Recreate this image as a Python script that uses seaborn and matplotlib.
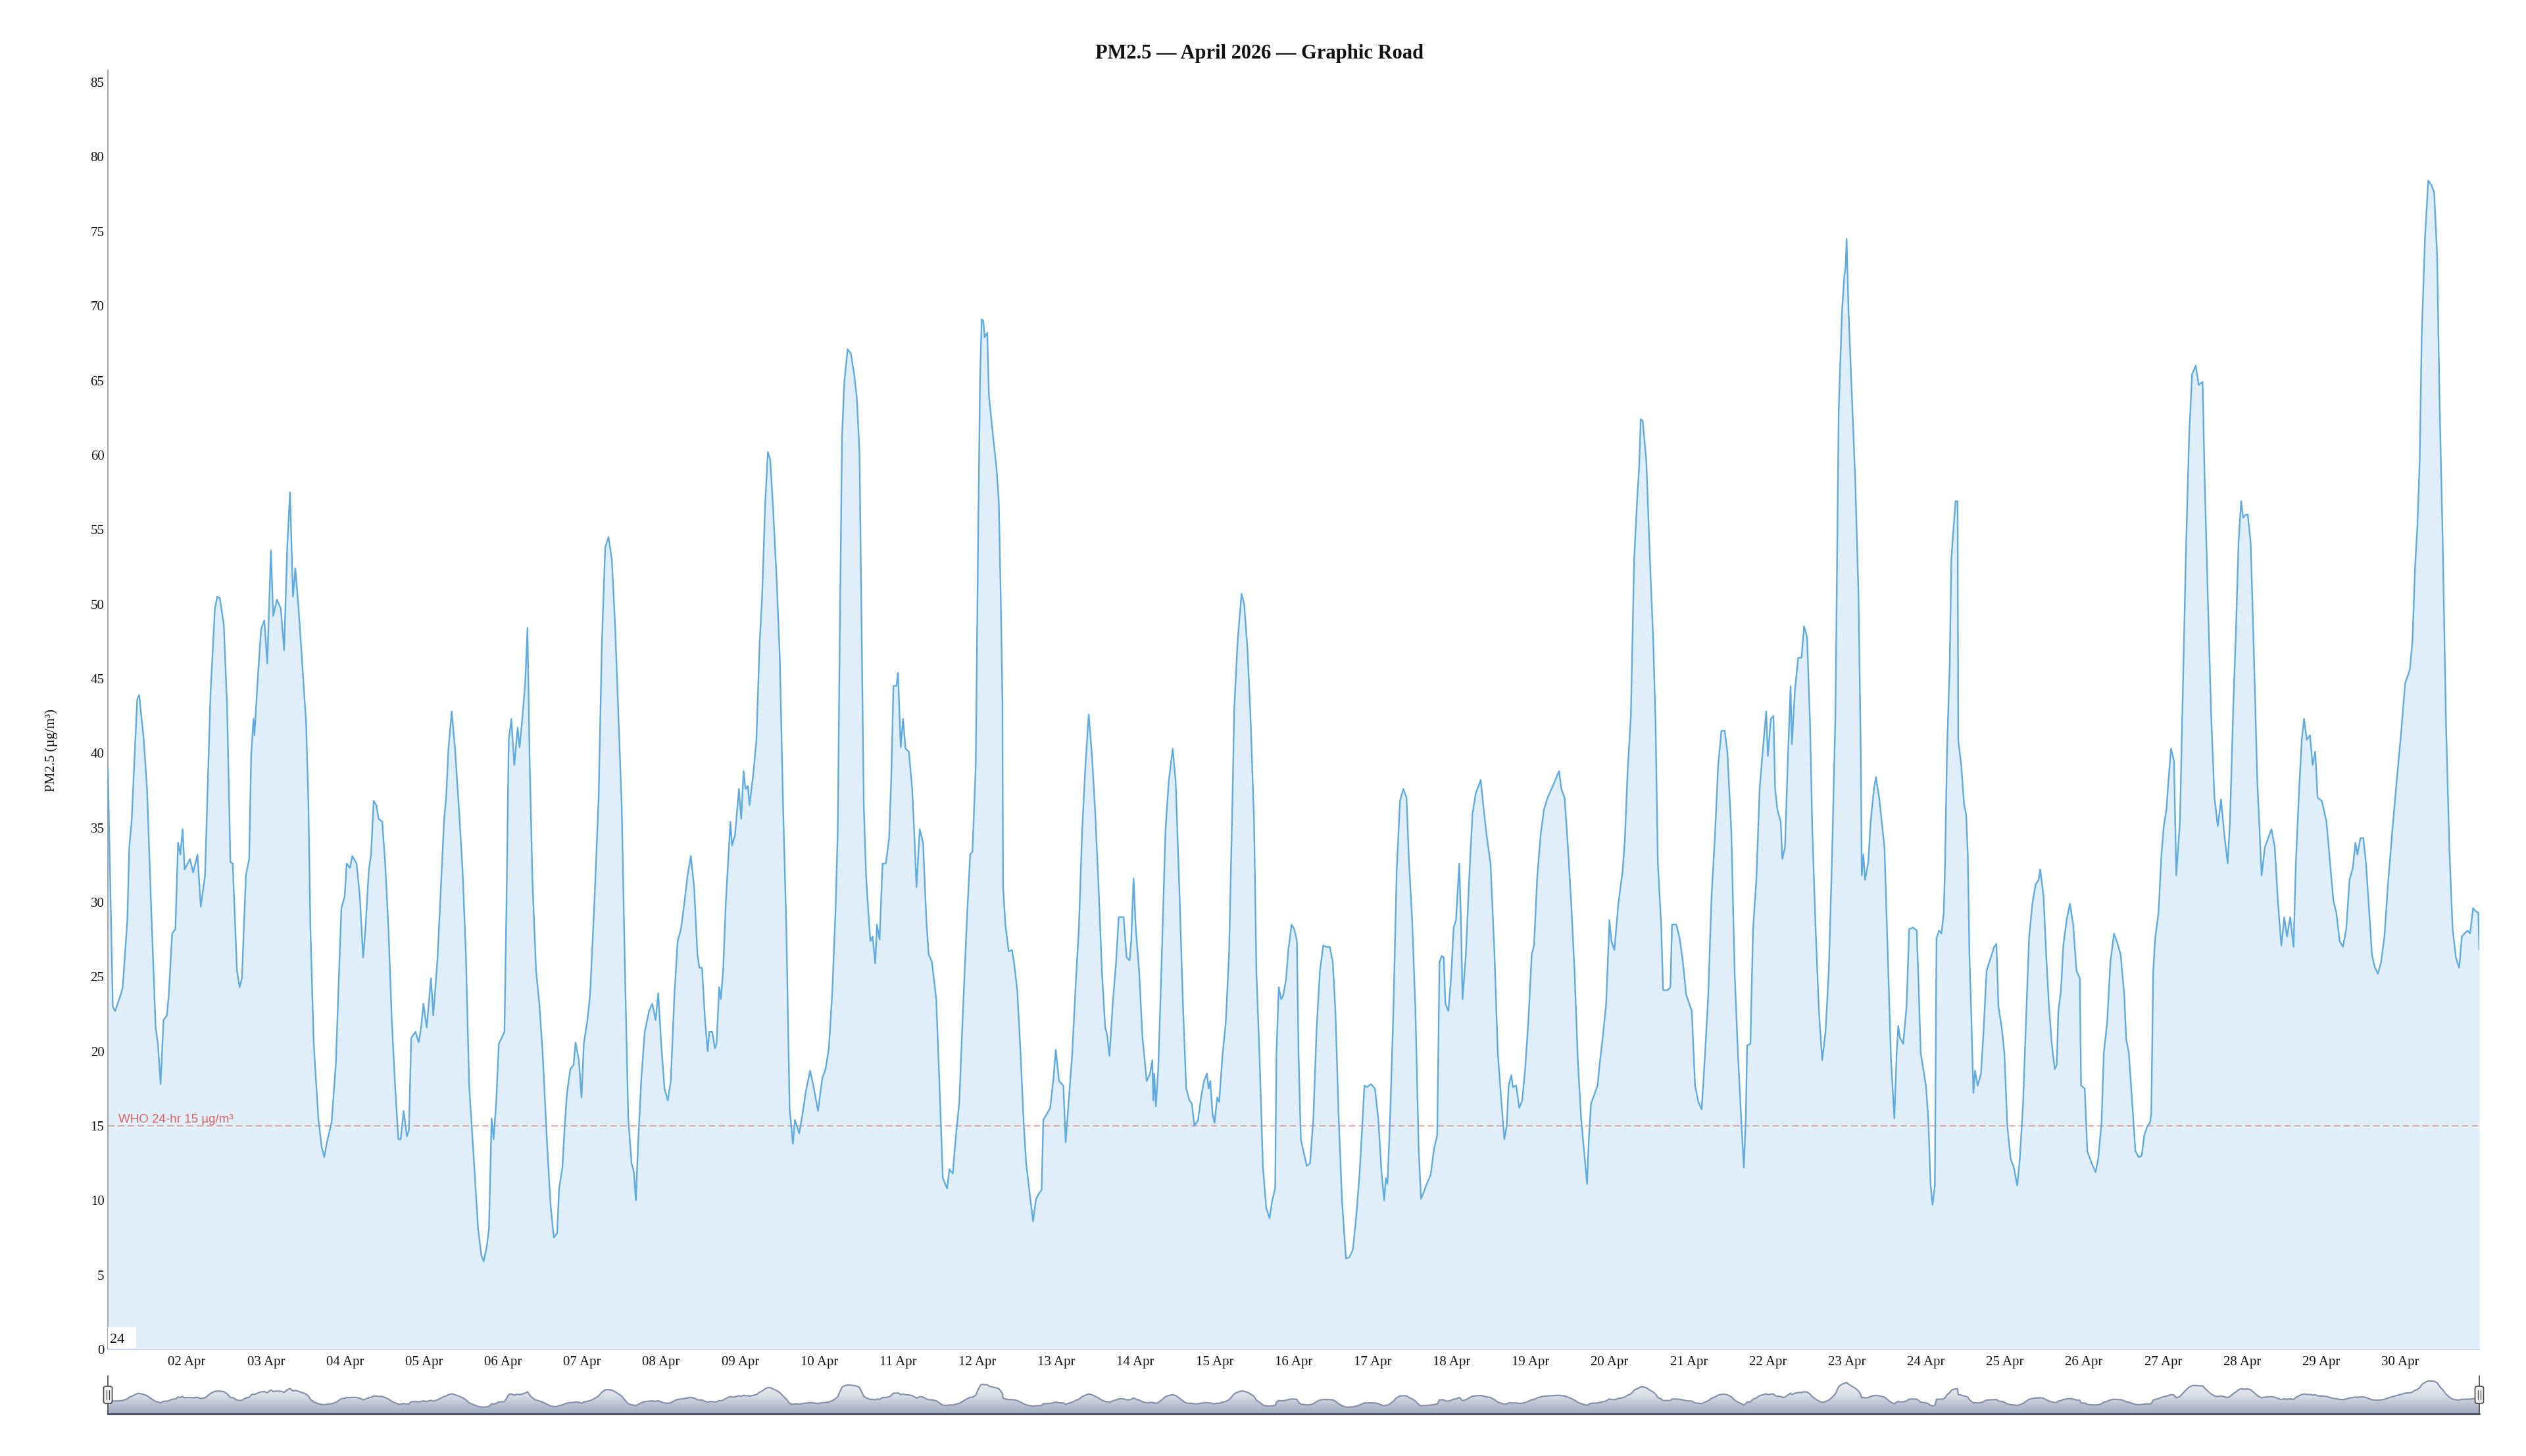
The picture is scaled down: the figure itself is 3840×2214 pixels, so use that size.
import numpy as np
import pandas as pd
import matplotlib
matplotlib.use('Agg')
import matplotlib.pyplot as plt
import matplotlib.dates as mdates
from matplotlib.colors import LinearSegmentedColormap
from matplotlib.lines import Line2D
from matplotlib.patches import FancyBboxPatch, Rectangle
from matplotlib.transforms import IdentityTransform
import seaborn as sns

# PM2.5 readings (hours since 01 Apr 00:00, µg/m³)
seg1 = [(0.0, 39.0), (1.5, 23.0), (2.2, 22.7), (3.9, 23.8), (4.5, 24.3), (5.9, 28.8), (6.5, 33.7),
        (7.2, 35.4), (8.9, 43.6), (9.5, 43.9), (10.9, 40.9), (11.9, 37.6), (13.2, 29.3), (14.5, 21.6),
        (15.2, 20.5), (16.0, 17.8), (16.9, 22.1), (17.9, 22.4), (18.5, 23.8), (19.5, 27.9), (20.5, 28.2),
        (21.3, 34.0), (22.0, 33.2), (22.7, 34.9), (23.3, 32.2), (24.9, 32.9), (25.9, 32.0), (27.2, 33.2),
        (28.2, 29.7), (29.5, 31.8), (30.5, 39.2), (31.2, 44.2), (32.5, 49.7), (33.2, 50.5), (34.0, 50.4),
        (35.2, 48.6), (36.2, 43.1), (37.2, 32.7), (37.9, 32.6), (39.2, 25.4), (40.0, 24.3), (40.7, 24.9),
        (41.9, 31.8), (42.9, 32.9), (43.5, 39.8), (44.2, 42.3), (44.5, 41.2), (45.5, 45.0), (46.5, 48.3),
        (47.5, 48.9), (48.4, 46.0), (49.5, 53.6), (50.2, 49.2), (51.3, 50.3), (52.5, 49.7), (53.5, 46.9),
        (54.5, 54.1), (55.3, 57.5), (56.2, 50.5), (56.9, 52.4), (57.9, 49.7), (58.9, 46.4), (60.2, 42.0),
        (60.9, 36.5), (61.5, 28.2), (62.5, 20.5), (63.9, 15.5), (64.9, 13.6), (65.7, 12.9), (66.5, 13.9),
        (67.9, 15.2), (69.2, 19.1), (70.2, 25.4), (70.9, 29.6), (71.9, 30.4), (72.5, 32.6), (73.5, 32.3),
        (74.2, 33.1), (75.5, 32.6), (76.5, 30.4), (77.5, 26.3), (78.2, 28.2), (79.2, 32.1), (79.9, 33.2),
        (80.7, 36.8), (81.5, 36.5), (82.2, 35.6), (83.3, 35.4), (84.2, 32.6), (85.2, 28.2), (86.2, 22.1),
        (87.2, 17.7), (88.2, 14.1), (88.9, 14.1)]

seg2 = [(89.8, 16.0), (90.8, 14.3), (91.4, 14.7), (92.1, 20.9), (93.4, 21.3), (94.4, 20.6), (95.1, 21.6),
        (95.8, 23.2), (96.8, 21.6), (98.1, 24.9), (98.8, 22.4), (100.1, 26.3), (101.4, 32.3), (102.1, 35.6),
        (102.7, 37.0), (103.4, 40.3), (104.4, 42.8), (105.4, 40.3), (106.7, 35.9), (107.7, 32.1),
        (108.7, 26.5), (109.7, 17.7), (111.1, 12.8), (112.4, 8.1), (113.4, 6.3), (114.1, 5.9), (115.1, 7.0),
        (115.7, 8.1), (116.5, 15.5), (117.1, 14.1), (117.9, 16.6), (118.7, 20.5), (120.4, 21.3),
        (121.1, 31.0), (121.7, 40.9), (122.5, 42.3), (123.4, 39.2), (124.4, 41.7), (125.0, 40.4),
        (125.9, 42.5), (126.7, 44.7), (127.4, 48.4), (128.0, 40.1), (128.9, 31.5), (130.0, 25.4),
        (131.0, 23.2), (132.0, 19.9), (133.4, 13.6), (134.4, 9.7), (135.4, 7.5), (136.4, 7.8), (137.0, 10.8),
        (138.0, 12.2), (138.7, 15.0), (139.4, 17.2), (140.4, 18.8), (141.4, 19.1), (142.0, 20.6),
        (143.0, 19.4), (143.8, 16.9), (144.5, 20.5), (145.6, 22.1), (146.4, 23.8), (147.7, 29.9),
        (149.0, 37.0), (150.0, 47.5), (151.0, 53.8), (152.0, 54.5), (153.0, 53.0), (154.0, 48.6),
        (155.0, 42.5), (156.0, 36.5), (157.0, 25.4), (158.0, 15.5), (159.0, 12.5), (159.7, 11.9),
        (160.3, 10.0), (161.0, 13.9), (162.0, 18.3), (163.0, 21.3), (164.3, 22.7), (165.3, 23.2),
        (166.3, 22.1), (167.1, 23.9), (168.0, 20.5), (169.0, 17.5), (170.0, 16.7), (170.9, 18.0),
        (172.0, 23.8), (173.0, 27.4), (174.0, 28.2), (175.0, 29.9), (176.0, 31.8), (177.0, 33.1),
        (178.0, 31.0), (179.0, 26.5)]

seg3 = [(179.6, 25.6), (180.4, 25.6), (181.3, 22.1), (182.1, 20.0), (182.6, 21.3), (183.5, 21.3),
        (184.3, 20.2), (184.8, 20.5), (185.6, 24.3), (186.1, 23.5), (186.8, 25.4), (187.6, 29.9),
        (189.0, 35.4), (189.5, 33.8), (190.4, 34.5), (191.6, 37.6), (192.3, 35.6), (193.0, 38.8),
        (193.6, 37.6), (194.3, 37.8), (194.8, 36.5), (196.0, 38.7), (196.9, 40.9), (197.9, 47.5),
        (198.6, 50.3), (199.6, 56.9), (200.4, 60.2), (201.1, 59.7), (202.0, 56.3), (203.0, 51.9),
        (204.0, 46.4), (205.0, 36.5), (206.0, 28.2), (207.0, 16.1), (208.0, 13.8), (208.6, 15.4),
        (209.9, 14.5), (210.9, 15.8), (211.9, 17.3), (213.2, 18.7), (214.2, 17.7), (215.6, 16.0),
        (216.9, 18.2), (217.9, 18.8), (218.9, 20.2), (219.9, 23.8), (220.9, 29.3), (221.6, 34.8),
        (222.2, 47.5), (222.9, 61.3), (223.6, 64.9), (224.6, 67.1), (225.6, 66.8), (226.6, 65.4),
        (227.4, 63.8), (228.2, 60.2), (228.9, 47.5), (229.5, 36.5), (230.2, 31.8), (230.9, 29.3),
        (231.5, 27.4), (232.2, 27.7), (233.0, 25.9), (233.5, 28.5), (234.3, 27.5), (235.2, 32.6),
        (236.2, 32.6), (237.2, 34.3), (237.9, 38.7), (238.5, 44.5), (239.4, 44.5), (239.9, 45.4),
        (240.7, 40.4), (241.4, 42.3), (242.2, 40.3), (243.2, 40.1), (244.2, 37.6), (244.9, 34.3),
        (245.5, 31.0), (246.5, 34.9), (247.5, 34.0), (248.5, 28.8), (249.2, 26.5), (250.2, 26.0),
        (251.5, 23.5), (252.5, 17.7), (253.5, 11.5), (254.8, 10.8), (255.5, 12.1), (256.5, 11.8),
        (257.5, 14.4), (258.5, 16.6), (259.5, 22.1), (260.8, 28.8), (261.8, 33.2), (262.5, 33.4),
        (263.5, 39.2), (264.2, 54.1), (264.8, 65.1), (265.3, 69.1), (265.8, 69.0), (266.2, 67.9),
        (267.0, 68.2), (267.5, 64.0), (268.5, 61.8)]

seg4 = [(269.8, 59.1), (270.5, 56.9), (271.1, 50.3), (271.6, 43.6), (271.8, 31.0), (272.5, 28.5),
        (273.5, 26.7), (274.5, 26.8), (275.1, 26.0), (276.1, 24.1), (277.1, 19.9), (278.1, 15.0),
        (278.8, 12.5), (279.8, 10.6), (280.9, 8.6), (281.8, 10.1), (282.8, 10.5), (283.5, 10.7),
        (284.0, 15.4), (285.1, 15.8), (286.1, 16.2), (287.1, 18.2), (287.8, 20.1), (288.8, 18.0),
        (290.1, 17.7), (290.8, 13.9), (291.8, 16.9), (292.8, 19.9), (293.8, 24.3), (294.8, 28.2),
        (295.8, 34.8), (296.8, 39.2), (297.8, 42.6), (298.8, 39.8), (299.8, 35.9), (300.8, 31.0),
        (301.8, 25.4), (302.8, 21.6), (303.4, 21.1), (304.1, 19.7), (305.1, 23.2), (306.1, 26.0),
        (306.9, 29.0), (308.4, 29.0), (309.3, 26.3), (310.2, 26.1), (310.7, 27.4), (311.4, 31.6),
        (312.1, 28.2), (313.1, 25.4), (314.1, 21.0), (315.4, 18.0), (316.4, 18.5), (317.1, 19.4),
        (317.4, 16.7), (317.7, 18.5), (318.2, 16.3), (318.9, 18.8), (319.7, 24.3), (321.1, 34.8),
        (322.1, 38.1), (323.3, 40.3), (324.2, 38.1), (325.3, 31.0), (326.4, 23.2), (327.4, 17.5),
        (328.4, 16.7), (329.1, 16.5), (329.9, 15.0), (331.0, 15.4), (331.9, 16.9), (332.8, 18.0),
        (333.7, 18.5), (334.2, 17.5), (334.7, 18.0), (335.4, 15.8), (336.0, 15.2), (336.8, 16.9),
        (337.4, 16.6), (338.4, 19.7), (339.4, 21.9), (340.4, 26.5), (341.4, 36.5), (342.0, 43.1),
        (343.0, 47.5), (344.2, 50.7), (345.0, 50.0), (346.0, 47.0), (347.0, 42.0), (348.0, 35.4),
        (348.7, 25.4), (349.7, 19.4), (350.7, 12.2), (351.7, 9.5), (352.7, 8.8), (353.5, 10.0),
        (354.4, 10.8), (354.8, 19.9), (355.5, 24.3), (356.2, 23.5), (356.8, 23.7), (357.7, 24.8),
        (358.4, 26.8)]

seg5 = [(359.4, 28.5), (360.2, 28.2), (361.0, 27.4), (361.5, 19.9), (362.2, 14.1), (363.0, 13.3),
        (364.0, 12.3), (365.0, 12.5), (366.0, 15.5), (367.0, 21.6), (368.0, 25.4), (369.0, 27.1),
        (370.0, 27.0), (371.0, 27.0), (371.9, 26.0), (372.7, 22.7), (373.7, 15.5), (374.7, 10.0),
        (375.9, 6.1), (377.0, 6.2), (378.0, 6.7), (379.0, 8.9), (380.0, 11.7), (380.7, 14.4),
        (381.5, 17.7), (382.3, 17.6), (383.5, 17.8), (384.7, 17.5), (385.7, 15.5), (386.7, 11.9),
        (387.5, 10.0), (388.0, 11.5), (388.5, 11.1), (389.3, 15.5), (390.3, 22.7), (391.3, 32.1),
        (392.3, 36.8), (393.3, 37.6), (394.3, 37.0), (395.0, 32.9), (396.0, 28.8), (397.0, 22.7),
        (398.0, 13.3), (398.7, 10.1), (399.6, 10.6), (400.6, 11.2), (401.6, 11.7), (402.6, 13.4),
        (403.6, 14.4), (404.3, 26.0), (405.0, 26.4), (405.6, 26.3), (406.1, 23.2), (407.0, 22.7),
        (407.8, 24.9), (408.6, 28.3), (409.3, 28.8), (410.3, 32.6), (410.8, 29.0), (411.3, 23.5),
        (412.3, 26.5), (413.3, 31.5), (414.3, 35.9), (415.3, 37.3), (416.8, 38.2), (417.6, 36.5),
        (418.6, 34.5), (419.8, 32.6), (421.0, 26.5), (422.0, 19.9), (423.0, 16.9), (424.0, 14.1),
        (424.7, 15.0), (425.3, 17.7), (426.1, 18.4), (426.6, 17.6), (427.6, 17.7), (428.5, 16.2),
        (429.4, 16.7), (430.3, 18.8), (431.3, 22.1), (432.3, 26.5), (433.0, 27.1), (434.0, 31.8),
        (435.0, 34.5), (436.0, 36.2), (437.1, 37.0), (438.3, 37.6), (439.3, 38.1), (440.6, 38.8),
        (441.3, 37.6), (442.3, 37.0), (443.3, 33.7), (444.3, 29.9), (445.3, 25.4), (446.3, 19.4),
        (447.3, 15.5), (448.2, 13.3)]

seg6 = [(449.1, 11.1), (449.6, 13.9), (450.3, 16.5), (451.3, 17.1), (452.3, 17.7), (452.9, 19.1),
        (453.9, 21.0), (454.9, 23.2), (455.9, 28.8), (456.5, 27.4), (457.4, 26.8), (458.6, 29.9),
        (459.9, 32.1), (460.6, 34.3), (461.4, 38.7), (462.4, 42.5), (463.4, 53.0), (464.4, 57.4),
        (464.9, 59.1), (465.4, 62.4), (466.0, 62.3), (467.1, 59.6), (468.2, 53.0), (469.2, 47.5),
        (469.9, 42.0), (470.6, 32.6), (471.6, 28.5), (472.2, 24.1), (473.6, 24.1), (474.4, 24.3),
        (474.9, 28.5), (476.2, 28.5), (477.2, 27.6), (478.2, 26.0), (479.2, 23.8), (480.9, 22.7),
        (481.9, 17.7), (482.9, 16.6), (483.9, 16.1), (484.9, 19.7), (485.9, 23.8), (486.9, 30.4),
        (487.9, 34.3), (488.9, 39.2), (489.9, 41.5), (490.9, 41.5), (491.7, 40.1), (492.9, 34.8),
        (493.9, 25.4), (494.9, 19.9), (495.9, 15.5), (496.7, 12.2), (497.3, 15.5), (497.7, 20.4),
        (498.7, 20.5), (499.5, 28.2), (500.5, 31.5), (501.5, 37.6), (502.5, 40.3), (503.5, 42.8),
        (504.0, 39.8), (504.9, 42.3), (505.7, 42.5), (506.2, 37.6), (506.9, 36.2), (507.9, 35.4),
        (508.4, 32.9), (509.2, 33.7), (510.0, 39.2), (510.9, 44.5), (511.3, 40.6), (512.2, 44.2),
        (513.2, 46.4), (514.2, 46.4), (515.0, 48.5), (515.9, 47.8), (516.8, 42.0), (517.5, 34.8),
        (518.5, 28.2), (519.5, 22.7), (520.5, 19.4), (521.5, 21.3), (522.5, 25.4), (523.5, 33.2),
        (524.5, 42.5), (525.5, 62.9), (526.5, 69.6), (527.2, 72.0), (527.6, 72.6), (527.9, 74.5),
        (528.5, 69.6), (529.5, 64.0), (530.5, 58.5), (531.5, 50.8), (532.2, 40.3), (532.5, 31.8),
        (533.0, 33.2), (533.5, 31.5), (534.5, 32.7), (535.2, 35.4), (536.2, 37.6), (536.8, 38.4),
        (537.8, 37.0)]

seg7 = [(539.4, 33.7), (540.4, 26.5), (541.4, 19.4), (542.4, 15.5), (543.1, 19.9), (543.6, 21.7),
        (544.1, 20.9), (545.1, 20.5), (546.1, 23.0), (546.9, 28.2), (548.1, 28.3), (549.2, 28.1),
        (549.7, 24.9), (550.4, 19.9), (551.4, 18.5), (552.0, 17.7), (552.7, 15.5), (553.4, 11.1),
        (554.0, 9.7), (554.7, 11.0), (555.2, 27.6), (556.0, 28.1), (556.7, 27.9), (557.4, 29.3),
        (557.8, 32.6), (558.4, 40.3), (559.2, 45.8), (559.7, 53.0), (560.4, 55.2), (561.0, 56.9),
        (561.6, 56.9), (561.8, 40.9), (562.7, 39.2), (563.6, 36.5), (564.2, 35.9), (564.7, 33.2),
        (565.2, 26.5), (565.8, 22.1), (566.4, 17.2), (566.9, 18.7), (567.7, 17.7), (568.7, 18.5),
        (569.4, 21.0), (570.4, 25.4), (571.7, 26.3), (572.7, 27.0), (573.4, 27.2), (574.0, 23.0),
        (575.0, 21.6), (575.8, 19.9), (576.7, 15.0), (577.7, 12.8), (578.7, 12.2), (579.7, 11.0),
        (580.5, 12.8), (581.5, 16.6), (582.3, 21.6), (583.3, 27.6), (584.3, 29.9), (585.3, 31.2),
        (586.2, 31.5), (586.7, 32.2), (587.7, 30.4), (588.5, 26.5), (589.3, 23.2), (590.2, 20.5),
        (591.1, 18.8), (591.7, 19.1), (592.2, 22.7), (593.0, 24.1), (593.7, 27.1), (594.7, 28.8),
        (595.7, 29.9), (596.7, 28.5), (597.7, 25.4), (598.7, 24.9), (599.1, 17.7), (600.2, 17.5),
        (601.0, 13.3), (602.3, 12.5), (603.5, 11.9), (604.3, 12.8), (605.3, 15.2), (606.0, 19.9),
        (607.0, 21.9), (608.0, 26.0), (609.1, 27.9), (610.2, 27.2), (611.1, 26.5), (612.2, 23.8),
        (612.8, 20.8), (613.6, 19.9), (614.6, 16.6), (615.6, 13.3), (616.6, 12.9), (617.5, 13.0),
        (618.3, 14.4), (619.3, 15.0), (620.0, 15.2), (620.4, 15.8), (621.0, 25.4), (621.6, 27.6),
        (622.6, 29.3), (623.5, 33.2), (624.2, 35.1), (625.0, 36.2), (625.6, 38.1), (626.4, 40.3),
        (627.3, 39.5), (628.0, 31.8)]

seg8 = [(629.1, 35.4), (630.0, 44.2), (631.0, 54.1), (631.9, 61.3), (632.8, 65.4), (633.9, 66.0),
        (634.8, 64.7), (636.0, 64.9), (636.6, 58.5), (637.6, 50.3), (638.6, 42.5), (639.6, 37.0),
        (640.6, 35.1), (641.6, 36.9), (642.6, 34.5), (643.6, 32.6), (644.3, 35.4), (645.3, 43.1),
        (646.1, 48.1), (646.9, 54.1), (647.7, 56.9), (648.3, 55.8), (649.1, 56.0), (649.7, 56.0),
        (650.6, 54.1), (651.6, 46.4), (652.6, 38.1), (653.3, 34.8), (653.9, 31.8), (654.9, 33.7),
        (655.9, 34.3), (656.9, 34.9), (657.9, 33.7), (658.9, 29.9), (659.9, 27.1), (660.8, 29.0),
        (661.6, 27.7), (662.6, 29.0), (663.6, 27.0), (664.3, 32.6), (665.3, 37.6), (666.1, 40.9),
        (666.8, 42.3), (667.6, 40.9), (668.6, 41.2), (669.4, 39.2), (670.2, 40.1), (670.9, 37.0),
        (672.2, 36.8), (673.6, 35.4), (674.9, 32.1), (675.7, 30.1), (676.6, 29.3), (677.6, 27.4),
        (678.6, 27.0), (679.6, 28.2), (680.6, 31.5), (681.6, 32.3), (682.4, 34.0), (683.0, 33.2),
        (683.9, 34.3), (684.8, 34.3), (685.6, 32.6), (686.6, 29.3), (687.4, 26.5), (688.2, 25.7),
        (689.2, 25.2), (690.2, 26.0), (691.2, 27.7), (692.2, 31.0), (693.6, 34.8), (694.9, 38.1),
        (696.2, 41.2), (697.5, 44.7), (698.9, 45.6), (699.7, 47.5), (700.5, 52.5), (701.2, 55.2),
        (701.9, 59.6), (702.5, 67.9), (703.5, 74.5), (704.5, 78.4), (705.5, 78.1), (706.3, 77.6),
        (707.2, 73.4), (707.9, 64.0), (708.9, 54.1), (709.9, 42.0), (710.9, 33.7), (711.9, 28.2),
        (712.9, 26.3), (713.9, 25.6), (714.7, 27.7), (715.5, 27.9), (716.5, 28.1), (717.2, 27.9),
        (718.1, 29.6), (718.9, 29.4), (719.7, 29.3), (720.0, 26.8)]

month_start = '2026-04-01'
n_days = 30
title = 'PM2.5 — April 2026 — Graphic Road'
y_label = 'PM2.5 (µg/m³)'
y_ticks = list(range(0, 90, 5))
who_level = 15
who_label = 'WHO 24-hr 15 µg/m³'
corner_label = '24'

rows = seg1 + seg2 + seg3 + seg4 + seg5 + seg6 + seg7 + seg8
df = pd.DataFrame(rows, columns=['hour', 'pm25'])
t0 = pd.Timestamp(month_start)
t1 = t0 + pd.Timedelta(days=n_days)
df['time'] = t0 + pd.to_timedelta(df['hour'], unit='h')

sns.set_theme(style='white')
plt.rcParams['font.family'] = ['Liberation Serif', 'DejaVu Serif']

W, H = 3840, 2214
fig = plt.figure(figsize=(W / 100, H / 100), dpi=100)


def frame(x0, y0, x1, y1):
    # pixel box (top-left origin) -> figure fraction rect
    return [x0 / W, 1 - y1 / H, (x1 - x0) / W, (y1 - y0) / H]


# main chart
ax = fig.add_axes(frame(164, 107, 3769, 2052))
ax.fill_between(df['time'], df['pm25'], 0, color='#e0eefa', lw=0, zorder=1)
sns.lineplot(data=df, x='time', y='pm25', ax=ax, color='#5eabe1', lw=1.7, zorder=3)
ax.axhline(who_level, color='#d9534f', alpha=0.6, lw=1.1, dashes=(6.5, 3.3), zorder=2)
ax.text(0.0044, who_level + 0.2, who_label, transform=ax.get_yaxis_transform(),
        family=['Liberation Sans', 'DejaVu Sans'], fontsize=13.5, color='#d9534f', alpha=0.9,
        ha='left', va='baseline', zorder=4)

ax.set_xlim(t0, t1)
ax.set_ylim(0, 85.8)
ax.set_yticks(y_ticks)
ax.xaxis.set_major_locator(mdates.DayLocator(bymonthday=range(2, 31)))
ax.xaxis.set_major_formatter(mdates.DateFormatter('%d %b'))
ax.tick_params(axis='both', length=0, labelsize=15, colors='#111111')
ax.tick_params(axis='y', pad=4)
ax.tick_params(axis='x', pad=7)
ax.set_xlabel('')
ax.set_ylabel('')
for s in ['top', 'right']:
    ax.spines[s].set_visible(False)
ax.spines['left'].set_color('#a6a6a6')
ax.spines['left'].set_linewidth(1.5)
ax.spines['bottom'].set_color('#ccd6eb')
ax.spines['bottom'].set_linewidth(1.5)

# small white box in the lower-left corner
ax.add_patch(Rectangle((0, 2 / 1945), 43 / 3605, 32 / 1945, transform=ax.transAxes,
                       fc='white', ec='none', zorder=5))
ax.text(3 / 3605, 10 / 1945, corner_label, transform=ax.transAxes, fontsize=16,
        color='#111111', ha='left', va='baseline', zorder=6)

fig.text(1915 / W, 1 - 82 / H, title, ha='center', va='center', fontsize=22,
         weight='bold', color='#111111')
fig.text(78 / W, 1 - 1141 / H, y_label, ha='center', va='center', rotation=90,
         fontsize=15, color='#111111')

# navigator strip
nav = fig.add_axes(frame(164, 2092, 3769, 2150))
nav_lo, nav_hi = -12.7, 92.7
area = nav.fill_between(df['time'], df['pm25'], nav_lo, color='none', lw=0)
grad = np.linspace(0, 1, 256).reshape(-1, 1)
nav_cmap = LinearSegmentedColormap.from_list('nav', ['#f2f3f7', '#dde0e9', '#9ea7bf'])
img = nav.imshow(grad, aspect='auto', cmap=nav_cmap, origin='upper',
                 extent=[mdates.date2num(t0), mdates.date2num(t1), nav_lo, nav_hi], zorder=1)
img.set_clip_path(area.get_paths()[0], transform=nav.transData)
sns.lineplot(data=df, x='time', y='pm25', ax=nav, color='#8690ab', lw=1.6, zorder=2)
nav.set_xlim(t0, t1)
nav.set_ylim(nav_lo, nav_hi)
nav.axis('off')

# navigator frame and handles
fig.add_artist(Line2D([164 / W, 3769 / W], [1 - 2150 / H] * 2, color='#4d5566', lw=2.2,
                      transform=fig.transFigure))
for xp in (164, 3769):
    fig.add_artist(Line2D([xp / W] * 2, [1 - 2092 / H, 1 - 2150 / H], color='#333333', lw=1.1,
                          transform=fig.transFigure))
    cy = H - 2121
    fig.add_artist(FancyBboxPatch((xp - 6.5, cy - 13), 13, 26,
                                  boxstyle='round,pad=0,rounding_size=3',
                                  fc='#f2f2f2', ec='#444444', lw=1.2,
                                  transform=IdentityTransform(), zorder=10))
    for dx in (-2, 2):
        fig.add_artist(Line2D([xp + dx] * 2, [cy - 7, cy + 7], color='#444444', lw=0.9,
                              transform=IdentityTransform(), zorder=11))

fig.savefig('out.png', dpi=100)
